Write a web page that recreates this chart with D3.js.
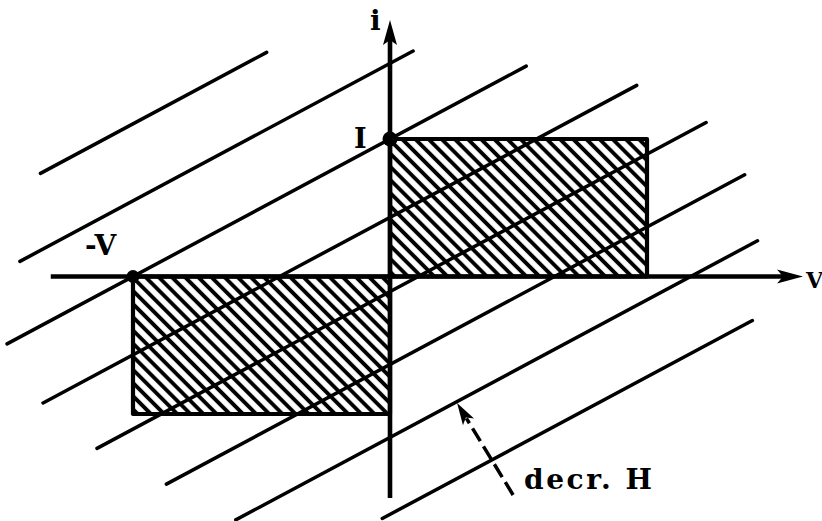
<!DOCTYPE html>
<html>
<head>
<meta charset="utf-8">
<script src="https://cdn.jsdelivr.net/npm/d3@7"></script>
<style>
  html, body { margin: 0; padding: 0; background: #fff; }
  svg { display: block; }
  text { font-family: "DejaVu Serif", serif; font-weight: bold; fill: #000; }
</style>
</head>
<body>
<svg id="chart" width="822" height="521"></svg>
<script>
// Operating point values (normalised): open-circuit voltage V and current I
const V = 1;
const I = 1;

// Shaded operating regions in the (v, i) plane
const regionV0 = [0, -V];
const regionV1 = [V, 0];
const regionI0 = [0, -I];
const regionI1 = [I, 0];

// Family of load lines  i = v + c, one per field value H
const loadOffsets = [2.11, 1.55, 1.0, 0.43, -0.11, -0.64, -1.17, -1.73];
const loadStartV  = [-1.36, -1.44, -1.49, -1.35, -1.14, -0.87, -0.60, -0.03];
const loadEndV    = [-0.48, 0.09, 0.53, 0.96, 1.23, 1.38, 1.43, 1.41];

// Axis extents
const vAxisExtent = [-1.32, 1.607];
const iAxisExtent = [-1.61, 1.865];

// Marked points with their labels
const markV = [0, -V];
const markI = [I, 0];
const markLabels = ["I", "-V"];

// "decreasing H" indicator: tail and head in (v, i)
const hArrowV = [0.479, 0.261];
const hArrowI = [-1.589, -0.92];

const svg = d3.select("#chart");
const x = d3.scaleLinear().domain([-1, 1]).range([133, 647]);
const y = d3.scaleLinear().domain([-1, 1]).range([414, 139]);

// Hatch pattern for the shaded regions (strokes running down to the right)
const defs = svg.append("defs");
const pat = defs.append("pattern")
  .attr("id", "hatch")
  .attr("patternUnits", "userSpaceOnUse")
  .attr("width", 9.3).attr("height", 9.3)
  .attr("patternTransform", "rotate(-45)");
pat.append("line")
  .attr("x1", 0).attr("y1", -2).attr("x2", 0).attr("y2", 12)
  .attr("stroke", "#000").attr("stroke-width", 3.9);
pat.append("line")
  .attr("x1", 9.3).attr("y1", -2).attr("x2", 9.3).attr("y2", 12)
  .attr("stroke", "#000").attr("stroke-width", 3.9);

const regions = d3.range(regionV0.length).map(k => ({
  v0: regionV0[k], v1: regionV1[k], i0: regionI0[k], i1: regionI1[k]
}));

svg.append("g").selectAll("rect")
  .data(regions).join("rect")
  .attr("x", d => x(d.v0))
  .attr("y", d => y(d.i1))
  .attr("width", d => x(d.v1) - x(d.v0))
  .attr("height", d => y(d.i0) - y(d.i1))
  .attr("fill", "url(#hatch)")
  .attr("stroke", "#000")
  .attr("stroke-width", 4.2)
  .attr("stroke-linejoin", "round");

// Load lines
const loads = loadOffsets.map((c, k) => [
  [loadStartV[k], loadStartV[k] + c],
  [loadEndV[k], loadEndV[k] + c]
]);
const line = d3.line().x(d => x(d[0])).y(d => y(d[1]));
svg.append("g").selectAll("path")
  .data(loads).join("path")
  .attr("d", line)
  .attr("fill", "none")
  .attr("stroke", "#000")
  .attr("stroke-width", 3.5)
  .attr("stroke-linecap", "round");

// Axes with arrowheads
const axes = svg.append("g").attr("stroke", "#000").attr("stroke-width", 4.6);
axes.append("line")
  .attr("x1", x(vAxisExtent[0])).attr("y1", y(0))
  .attr("x2", x(vAxisExtent[1]) - 10).attr("y2", y(0));
axes.append("line")
  .attr("x1", x(0)).attr("y1", y(iAxisExtent[0]))
  .attr("x2", x(0)).attr("y2", y(iAxisExtent[1]) + 10);

const vt = [x(vAxisExtent[1]), y(0)];
svg.append("path")
  .attr("d", `M${vt[0]},${vt[1]} L${vt[0] - 26},${vt[1] - 7} L${vt[0] - 20},${vt[1]} L${vt[0] - 26},${vt[1] + 7} Z`)
  .attr("fill", "#000");
const it = [x(0), y(iAxisExtent[1])];
svg.append("path")
  .attr("d", `M${it[0]},${it[1]} L${it[0] + 7},${it[1] + 25} L${it[0]},${it[1] + 20} L${it[0] - 7},${it[1] + 25} Z`)
  .attr("fill", "#000");

// Marked points
svg.append("g").selectAll("circle")
  .data(markV.map((v, k) => [v, markI[k]])).join("circle")
  .attr("cx", d => x(d[0])).attr("cy", d => y(d[1]))
  .attr("r", (d, k) => k === 0 ? 7.5 : 6.5)
  .attr("fill", "#000");

// Labels
svg.append("text").attr("x", 354).attr("y", 148).attr("font-size", 27).text(markLabels[0]);
svg.append("text").attr("x", 85).attr("y", 255).attr("font-size", 28).text(markLabels[1]);
svg.append("text").attr("x", 370).attr("y", 30).attr("font-size", 28).text("i");
svg.append("text").attr("x", 806).attr("y", 288).attr("font-size", 22).text("V");

// Decreasing-H indicator
const tail = [x(hArrowV[0]), y(hArrowI[0])];
const head = [x(hArrowV[1]), y(hArrowI[1])];
const ang = Math.atan2(head[1] - tail[1], head[0] - tail[0]);
const headLen = 22;
const base = [head[0] - headLen * Math.cos(ang), head[1] - headLen * Math.sin(ang)];
svg.append("line")
  .attr("x1", tail[0]).attr("y1", tail[1])
  .attr("x2", base[0] + 4 * Math.cos(ang)).attr("y2", base[1] + 4 * Math.sin(ang))
  .attr("stroke", "#000").attr("stroke-width", 3.5)
  .attr("stroke-dasharray", "15,6");
const px = -Math.sin(ang), py = Math.cos(ang);
const back = [head[0] - (headLen - 5) * Math.cos(ang), head[1] - (headLen - 5) * Math.sin(ang)];
svg.append("path")
  .attr("d", `M${head[0]},${head[1]} L${base[0] + 6.5 * px},${base[1] + 6.5 * py} L${back[0]},${back[1]} L${base[0] - 6.5 * px},${base[1] - 6.5 * py} Z`)
  .attr("fill", "#000");

svg.append("text").attr("x", 524).attr("y", 489).attr("font-size", 28)
  .attr("textLength", 128).attr("lengthAdjust", "spacing")
  .text("decr. H");
</script>
</body>
</html>
